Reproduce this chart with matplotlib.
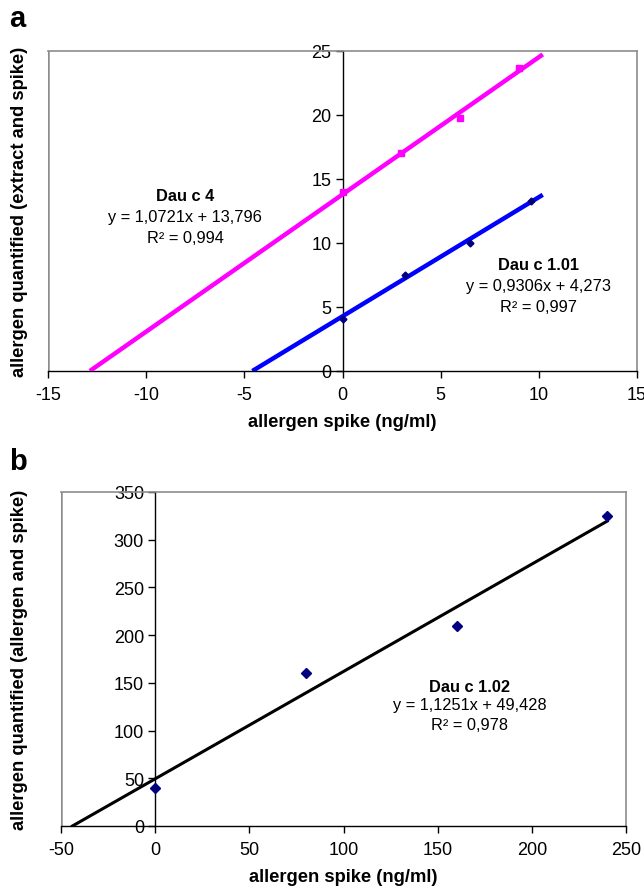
import matplotlib
matplotlib.use("Agg")
import matplotlib.pyplot as plt
import numpy as np

plt.rcParams['font.family'] = ['Liberation Sans', 'DejaVu Sans']

# ---- Panel a data ----
dau4_x = [0, 3, 6, 9]
dau4_y = [14.0, 17.0, 19.8, 23.7]
dau4_slope, dau4_icpt = 1.0721, 13.796

dau101_x = [0, 3.2, 6.5, 9.6]
dau101_y = [4.1, 7.5, 10.0, 13.3]
dau101_slope, dau101_icpt = 0.9306, 4.273

fit_end_a = 10.2
a_xticks = [-15, -10, -5, 0, 5, 10, 15]
a_yticks = [0, 5, 10, 15, 20, 25]

# ---- Panel b data ----
dau102_x = [0, 80, 160, 240]
dau102_y = [40, 160, 210, 325]
dau102_slope, dau102_icpt = 1.1251, 49.428
fit_end_b = 240
b_xticks = [-50, 0, 50, 100, 150, 200, 250]
b_yticks = [0, 50, 100, 150, 200, 250, 300, 350]

W, H = 644, 887
fig = plt.figure(figsize=(W/100, H/100), dpi=100)

TICK_FS = 13
LABEL_FS = 13.2
ANN_FS = 11.8

def style_axes(ax, xlim, ylim, xticks, yticks, ylabel):
    ax.set_xlim(*xlim)
    ax.set_ylim(*ylim)
    for s in ['top', 'right']:
        ax.spines[s].set_color('#8c8c8c')
        ax.spines[s].set_linewidth(1.2)
    ax.spines['left'].set_position(('data', 0))
    ax.spines['left'].set_color('black')
    ax.spines['left'].set_linewidth(1.0)
    ax.spines['bottom'].set_color('black')
    ax.spines['bottom'].set_linewidth(1.0)
    ax.axvline(xlim[0], color='#8c8c8c', lw=1.8, zorder=0)
    ax.set_xticks(xticks)
    ax.set_yticks(yticks)
    ax.set_xticklabels([str(t) for t in xticks])
    ax.set_yticklabels([str(t) for t in yticks])
    ax.tick_params(axis='both', direction='out', length=5, width=1, labelsize=TICK_FS, pad=3)
    ax.tick_params(axis='x', pad=6)
    ax.set_xlabel('allergen spike (ng/ml)', fontsize=LABEL_FS, fontweight='bold', labelpad=7)
    ax.set_ylabel(ylabel, fontsize=LABEL_FS, fontweight='bold')

# Panel a
axa = fig.add_axes([48/W, 1-372/H, (637-48)/W, (372-52)/H])
style_axes(axa, (-15, 15), (0, 25), a_xticks, a_yticks,
           'allergen quantified (extract and spike)')
axa.yaxis.set_label_coords((28-48)/589, 0.5)
x4 = np.array([-dau4_icpt/dau4_slope, fit_end_a])
axa.plot(x4, dau4_slope*x4 + dau4_icpt, color='#ff00ff', lw=3.2, solid_capstyle='butt', zorder=3)
axa.plot(dau4_x, dau4_y, 's', color='#ff00ff', ms=5, zorder=4, clip_on=False)
x1 = np.array([-dau101_icpt/dau101_slope, fit_end_a])
axa.plot(x1, dau101_slope*x1 + dau101_icpt, color='#0000ff', lw=3.2, solid_capstyle='butt', zorder=3)
axa.plot(dau101_x, dau101_y, 'D', color='#000080', ms=3.5, zorder=4)
axa.text(-8.0, 13.7, 'Dau c 4', ha='center', va='center', fontsize=ANN_FS, fontweight='bold')
axa.text(-8.0, 12.1, 'y = 1,0721x + 13,796', ha='center', va='center', fontsize=ANN_FS)
axa.text(-8.0, 10.4, 'R² = 0,994', ha='center', va='center', fontsize=ANN_FS)
axa.text(10.0, 8.3, 'Dau c 1.01', ha='center', va='center', fontsize=ANN_FS, fontweight='bold')
axa.text(10.0, 6.7, 'y = 0,9306x + 4,273', ha='center', va='center', fontsize=ANN_FS)
axa.text(10.0, 5.05, 'R² = 0,997', ha='center', va='center', fontsize=ANN_FS)
fig.text(9/W, 1-19/H, 'a', fontsize=21, fontweight='bold', va='center', ha='left')

# Panel b
axb = fig.add_axes([61/W, 1-827/H, (626-61)/W, (827-493)/H])
style_axes(axb, (-50, 250), (0, 350), b_xticks, b_yticks,
           'allergen quantified (allergen and spike)')
axb.yaxis.set_label_coords((28-61)/565, 0.5)
xb = np.array([-dau102_icpt/dau102_slope, fit_end_b])
axb.plot(xb, dau102_slope*xb + dau102_icpt, color='black', lw=2.2, zorder=3)
axb.plot(dau102_x, dau102_y, 'D', color='#000080', ms=5.5, zorder=4, clip_on=False)
axb.text(167, 146, 'Dau c 1.02', ha='center', va='center', fontsize=ANN_FS, fontweight='bold')
axb.text(167, 127, 'y = 1,1251x + 49,428', ha='center', va='center', fontsize=ANN_FS)
axb.text(167, 106, 'R² = 0,978', ha='center', va='center', fontsize=ANN_FS)
fig.text(9/W, 1-462/H, 'b', fontsize=21, fontweight='bold', va='center', ha='left')

fig.savefig('out.png', dpi=100)
